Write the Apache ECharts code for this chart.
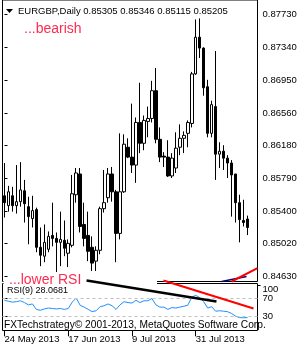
<!DOCTYPE html>
<html><head><meta charset="utf-8">
<script src="https://cdn.jsdelivr.net/npm/echarts@6/dist/echarts.min.js"></script>
<style>html,body{margin:0;padding:0;background:#fff}#c{width:300px;height:350px}</style>
</head><body><div id="c"></div>
<script>
const symbolName = 'EURGBP,Daily';
const dates = ['2013-05-24','2013-05-27','2013-05-28','2013-05-29','2013-05-30','2013-05-31',
'2013-06-03','2013-06-04','2013-06-05','2013-06-06','2013-06-07',
'2013-06-10','2013-06-11','2013-06-12','2013-06-13','2013-06-14',
'2013-06-17','2013-06-18','2013-06-19','2013-06-20','2013-06-21',
'2013-06-24','2013-06-25','2013-06-26','2013-06-27','2013-06-28',
'2013-07-01','2013-07-02','2013-07-03','2013-07-04','2013-07-05',
'2013-07-08','2013-07-09','2013-07-10','2013-07-11','2013-07-12',
'2013-07-15','2013-07-16','2013-07-17','2013-07-18','2013-07-19',
'2013-07-22','2013-07-23','2013-07-24','2013-07-25','2013-07-26',
'2013-07-29','2013-07-30','2013-07-31','2013-08-01','2013-08-02',
'2013-08-05','2013-08-06','2013-08-07','2013-08-08','2013-08-09',
'2013-08-12','2013-08-13','2013-08-14','2013-08-15','2013-08-16','2013-08-19'];
const opens = [0.85581,0.85464,0.85581,0.85464,0.85511,0.85640,0.85452,0.85311,0.85417,0.84970,
0.84865,0.84947,0.85111,0.85076,0.85029,0.85053,0.84900,0.84994,0.85593,0.85839,
0.85241,0.85111,0.84970,0.84806,0.84935,0.85428,0.85558,0.85839,0.85628,0.85135,
0.85628,0.86156,0.86039,0.85945,0.86450,0.86203,0.86462,0.86497,0.86826,0.86250,
0.86051,0.86039,0.85816,0.85910,0.86156,0.86262,0.86321,0.86438,0.87025,0.87460,
0.87331,0.86873,0.86321,0.86638,0.86074,0.86109,0.86027,0.85969,0.85839,0.85499,
0.85288,0.85305];
const highs = [0.85969,0.85698,0.85687,0.85945,0.85980,0.85769,0.85569,0.85581,0.85440,0.85205,
0.85241,0.85158,0.85499,0.85146,0.85393,0.85288,0.85064,0.85828,0.85910,0.85910,
0.85499,0.85393,0.85100,0.84982,0.85452,0.85886,0.85910,0.85922,0.85651,0.86321,
0.86309,0.86262,0.86673,0.86509,0.86920,0.86532,0.86638,0.86943,0.87096,0.86391,
0.86098,0.86239,0.86086,0.86333,0.86427,0.86344,0.86474,0.87049,0.87671,0.87683,
0.87340,0.86955,0.86708,0.87296,0.86215,0.86180,0.86062,0.86004,0.85839,0.85593,
0.85534,0.85346];
const lows = [0.85323,0.85393,0.85393,0.85370,0.85452,0.85264,0.85006,0.85205,0.84912,0.84747,
0.84794,0.84912,0.84982,0.84677,0.84747,0.84865,0.84736,0.84970,0.85499,0.85146,
0.84982,0.84806,0.84689,0.84689,0.84888,0.85382,0.85499,0.85511,0.84794,0.85064,
0.85616,0.86027,0.85851,0.85734,0.86086,0.86121,0.86274,0.86450,0.86203,0.85980,
0.85922,0.85804,0.85792,0.85851,0.86062,0.86086,0.86156,0.86391,0.87014,0.87213,
0.86767,0.86274,0.86274,0.85769,0.85910,0.85886,0.85792,0.85334,0.85264,0.85029,
0.85217,0.85115];
const closes = [0.85499,0.85628,0.85464,0.85511,0.85651,0.85487,0.85334,0.85405,0.84970,0.84876,
0.85029,0.85100,0.85076,0.85029,0.85064,0.84959,0.85017,0.85605,0.85851,0.85217,
0.85076,0.84923,0.84783,0.84935,0.85428,0.85499,0.85839,0.85628,0.85135,0.85628,
0.86192,0.86039,0.85945,0.86450,0.86203,0.86474,0.86497,0.86826,0.86250,0.86039,
0.86039,0.85816,0.86027,0.86145,0.86262,0.86297,0.86450,0.87025,0.87460,0.87331,
0.86861,0.86321,0.86661,0.86074,0.86109,0.86027,0.85969,0.85828,0.85499,0.85299,
0.85264,0.85205];
const rsi9 = [66,64,62,63,65,61,56,58,46,44,
47,49,48,47,48,46,48,62,71,55,
51,46,41,43,52,54,58,54,46,56,
63,61,60,66,61,65,65,70,56,51,
51,46,50,49,51,53,55,73,77,72,
63,49,52,42,43,42,41,37,31,28,
27.5,28.0681];
const priceTicks = [0.84630,0.85020,0.85400,0.85790,0.86180,0.86560,0.86950,0.87340,0.87730];
const rsiTicks = [30,70,100];
const rsiLevels = [30,70];
const dateTicks = ['2013-05-24','2013-06-17','2013-07-09','2013-07-31'];
// hand-drawn trend lines, in (bar index, value) units
const priceLineRed = [[57.0,0.84565],[63.5,0.84724]];
const priceLineNavy = [[54.5,0.84565],[60.75,0.84624]];
const rsiLineBlack = [[20.6,109.7],[53.2,63.4]];
const rsiLineRed = [[39.9,109.7],[62.5,48.0]];

const months = ['Jan','Feb','Mar','Apr','May','Jun','Jul','Aug','Sep','Oct','Nov','Dec'];
function fmtDate(s){ const p=s.split('-'); return (+p[2])+' '+months[+p[1]-1]+' '+p[0]; }
const FONT = 'Liberation Sans';
const last = closes.length-1;
const candleData = dates.map((d,i)=>[opens[i],closes[i],lows[i],highs[i]]);
const header = symbolName+' '+[opens[last],highs[last],lows[last],closes[last]].map(v=>v.toFixed(5)).join(' ');
const showIdx = new Set(dateTicks.map(d=>dates.indexOf(d)));
const rsiMax = 103.05, rsiMin = -0.5;
const rsiTop = rsiTicks.filter(v=>v===100);
const rsiRest = rsiTicks.filter(v=>v!==100);

function trend(pts, xi, yi, color, width){
  return {type:'line',xAxisIndex:xi,yAxisIndex:yi,data:pts,symbol:'none',clip:false,silent:true,z:6,
          lineStyle:{color:color,width:width},itemStyle:{color:color}};
}
const hiddenX = (g)=>({type:'value',gridIndex:g,min:-0.5,max:63.5,show:false});
function rsiAxis(vals, fmt){
  return {type:'value',gridIndex:1,position:'right',offset:0,min:rsiMin,max:rsiMax,
     axisLine:{show:false},
     axisTick:{show:true,length:3,customValues:vals,lineStyle:{color:'#000'}},
     axisLabel:{show:true,customValues:vals,margin:5,color:'#000',fontSize:9.5,fontFamily:FONT,lineHeight:8,formatter:fmt},
     splitLine:{show:false}};
}

const chart = echarts.init(document.getElementById('c'), null, {renderer:'canvas'});
chart.setOption({
  animation:false,
  backgroundColor:'#fff',
  textStyle:{fontFamily:FONT},
  grid:[
    {left:2.5,right:42.5,top:-1.5,bottom:68.5,show:true,borderColor:'#000',borderWidth:1},
    {left:2.5,right:42.5,top:283.5,bottom:19.5,show:true,borderColor:'#000',borderWidth:1}
  ],
  xAxis:[
    {type:'category',gridIndex:0,data:dates,max:63,boundaryGap:true,
     axisLine:{show:false},axisTick:{show:false},axisLabel:{show:false},splitLine:{show:false}},
    {type:'category',gridIndex:1,data:dates,max:63,boundaryGap:true,
     axisLine:{show:false},
     axisTick:{show:true,alignWithLabel:true,length:6,interval:(i)=>showIdx.has(i),lineStyle:{color:'#000'}},
     axisLabel:{show:true,interval:(i)=>showIdx.has(i),formatter:(v)=>fmtDate(v),align:'left',margin:4,
       color:'#000',fontSize:9.5,fontFamily:FONT},
     splitLine:{show:false}},
    hiddenX(0), hiddenX(1)
  ],
  yAxis:[
    {type:'value',gridIndex:0,position:'right',min:0.84565,max:0.87901,
     axisLine:{show:false},
     axisTick:{show:true,length:3,customValues:priceTicks,lineStyle:{color:'#000'}},
     axisLabel:{show:true,customValues:priceTicks,formatter:(v)=>v.toFixed(5),margin:5,color:'#000',fontSize:9.5,fontFamily:FONT},
     splitLine:{show:false}},
    rsiAxis(rsiRest,(v)=>String(v)),
    rsiAxis(rsiTop,(v)=>'\n'+v)
  ],
  series:[
    {type:'candlestick',xAxisIndex:0,yAxisIndex:0,data:candleData,barWidth:3,
     itemStyle:{color:'#fff',color0:'#000',borderColor:'#000',borderColor0:'#000',borderWidth:1},
     markLine:{silent:true,symbol:'none',animation:false,
       data:[
         {yAxis:closes[last],lineStyle:{opacity:0},
          label:{show:true,position:'end',distance:1,formatter:closes[last].toFixed(5),
                 backgroundColor:'#000',color:'#fff',padding:[2,2,1,3],fontSize:9.5,fontFamily:FONT}}
       ]}
    },
    {type:'line',xAxisIndex:1,yAxisIndex:1,data:rsi9,symbol:'none',
     lineStyle:{color:'#1e90ff',width:1},itemStyle:{color:'#1e90ff'},
     markLine:{silent:true,symbol:'none',animation:false,label:{show:false},
       data: rsiLevels.map(v=>({yAxis:v,lineStyle:{type:[3,3],color:'#c0c0c0',width:1}}))}
    },
    trend(priceLineNavy,2,0,'#000080',1.5),
    trend(priceLineRed,2,0,'#ff0000',2),
    trend(rsiLineBlack,3,1,'#000000',2.5),
    trend(rsiLineRed,3,1,'#ff0000',2)
  ],
  graphic:[
    {type:'rect',z:4,shape:{x:3.5,y:279,width:153.5,height:7},style:{fill:'#fff'}},
    {type:'polygon',z:10,shape:{points:[[6,9],[13,9],[9.5,13]]},style:{fill:'#000'}},
    {type:'text',z:10,left:18,top:6,style:{text:header,fill:'#000',font:'9.5px "Liberation Sans"'}},
    {type:'text',z:10,left:24,top:22,style:{text:'...bearish',fill:'#ff2b4f',font:'14px "Liberation Sans"'}},
    {type:'text',z:10,left:9,top:273,style:{text:'...lower RSI',fill:'#ff2b4f',font:'14px "Liberation Sans"'}},
    {type:'text',z:10,left:7,top:286,style:{text:'RSI(9) '+rsi9[last].toFixed(4),fill:'#000',font:'9px "Liberation Sans"'}},
    {type:'text',z:10,left:4,top:320,style:{text:'FXTechstrategy\u00a9 2001-2013, MetaQuotes Software Corp.',fill:'#000',font:'10.2px "Liberation Sans"'}}
  ]
});
</script></body></html>
